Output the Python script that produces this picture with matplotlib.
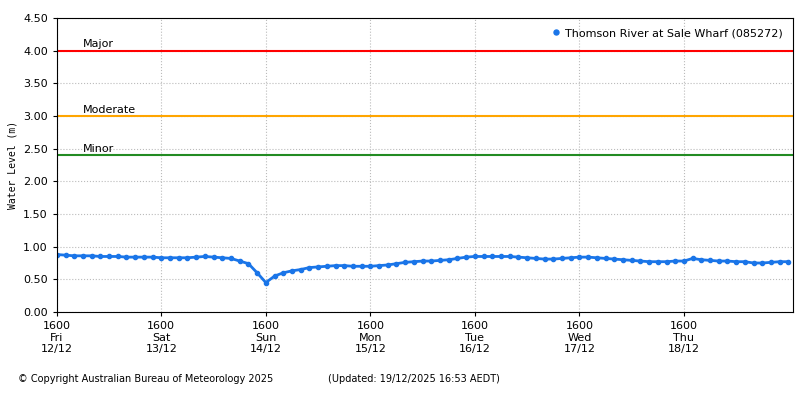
import matplotlib
matplotlib.use("Agg")
import matplotlib.pyplot as plt
import numpy as np

levels = [0.88,0.87,0.86,0.86,0.86,0.85,0.85,0.85,0.84,0.84,0.84,0.84,
          0.83,0.83,0.83,0.83,0.84,0.85,0.84,0.83,0.82,0.78,0.74,0.60,
          0.45,0.55,0.60,0.63,0.65,0.68,0.69,0.70,0.71,0.71,0.70,0.70,
          0.70,0.71,0.72,0.74,0.76,0.77,0.78,0.78,0.79,0.80,0.82,0.84,
          0.85,0.85,0.85,0.85,0.85,0.84,0.83,0.82,0.81,0.81,0.82,0.83,
          0.84,0.84,0.83,0.82,0.81,0.80,0.79,0.78,0.77,0.77,0.77,0.78,
          0.78,0.82,0.80,0.79,0.78,0.78,0.77,0.77,0.75,0.75,0.76,0.77,0.77]
hours = [2*i for i in range(len(levels))]  # hours since Fri 12/12 16:00
tick_labels = ["1600\nFri\n12/12","1600\nSat\n13/12","1600\nSun\n14/12","1600\nMon\n15/12",
               "1600\nTue\n16/12","1600\nWed\n17/12","1600\nThu\n18/12"]
thresholds = [("Major",4.0,"#ff0000"),("Moderate",3.0,"#ffa500"),("Minor",2.4,"#228b22")]

fig = plt.figure(figsize=(8,4), dpi=100)
ax = fig.add_axes([0.071,0.22,0.92,0.735])
ax.plot(hours, levels, color="#1a75e8", lw=2.0, marker="o", ms=3,
        label="Thomson River at Sale Wharf (085272)")
for name,v,c in thresholds:
    ax.axhline(v, color=c, lw=1.5)
    ax.text(6, v+0.02, name, fontsize=8, va="bottom")
ax.set_xlim(0, 169)
ax.set_ylim(0, 4.5)
ax.set_yticks(np.arange(0,4.51,0.5))
ax.set_yticklabels([f"{v:.2f}" for v in np.arange(0,4.51,0.5)], fontsize=8)
ax.set_xticks([24*i for i in range(7)])
ax.set_xticklabels(tick_labels, fontsize=8)
ax.grid(True, color="#bbbbbb", ls=":", lw=0.8)
ax.tick_params(length=3)
ax.set_ylabel("Water Level (m)", fontsize=7, family="monospace")
leg = ax.legend(loc="upper right", fontsize=8, frameon=False, handlelength=0.8,
                handletextpad=0.4, markerscale=1.2)
for l in leg.get_lines():
    l.set_linestyle("")
fig.text(0.022,0.045,"© Copyright Australian Bureau of Meteorology 2025", fontsize=7)
fig.text(0.41,0.045,"(Updated: 19/12/2025 16:53 AEDT)", fontsize=7)
fig.savefig("out.png", dpi=100)
